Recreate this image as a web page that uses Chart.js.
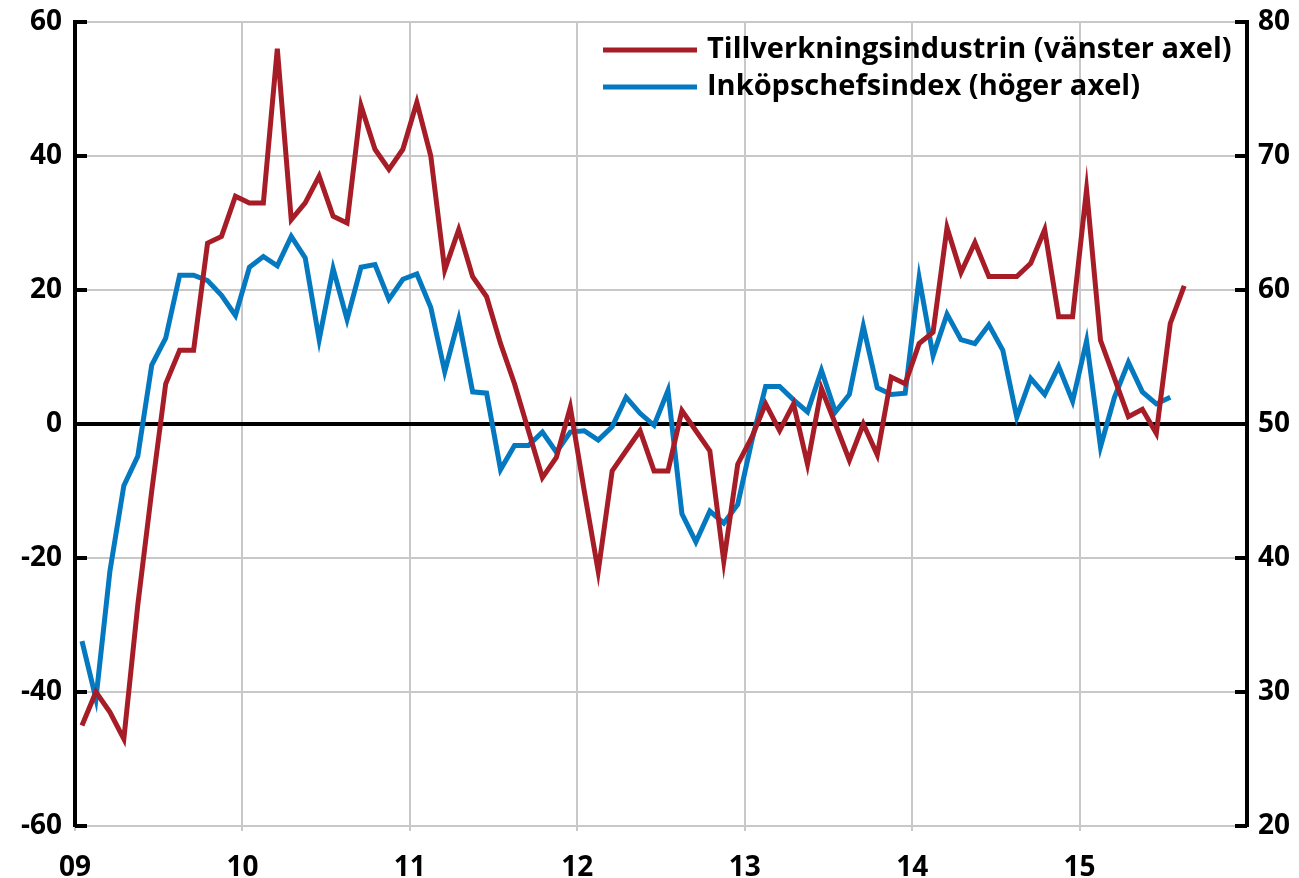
<!DOCTYPE html>
<html>
<head>
<meta charset="utf-8">
<script src="https://cdn.jsdelivr.net/npm/chart.js@4.4.1/dist/chart.umd.min.js"></script>
<style>
  body { margin: 0; background: #fff; }
  #wrap { width: 1299px; height: 878px; }
</style>
</head>
<body>
<div id="wrap"><canvas id="chart"></canvas></div>
<script>
// Data (monthly, Jan 2009 onwards)
const yearLabels = ['09', '10', '11', '12', '13', '14', '15'];

// Tillverkningsindustrin, left axis
const industryValues = [
    -45, -40, -43, -47, -27, -10, 6, 11, 11, 27, 28, 34,
    33, 33, 56, 30.5, 33, 37, 31, 30, 47.5, 41, 38, 41,
    48, 40, 23, 29, 22, 19, 12, 6, -1, -8, -5, 2.5,
    -10, -22, -7, -4, -1, -7, -7, 2, -1, -4, -20.5, -6,
    -2, 3, -1, 3, -6, 5.3, 0, -5.4, 0, -4.6, 7, 6,
    12, 13.7, 29.3, 22.6, 27.1, 22, 22, 22, 24, 29, 16, 16,
    35, 12.5, 6.8, 1.1, 2.2, -1.4, 15, 20.6
];

// Inköpschefsindex, right axis
const pmiValues = [
    33.8, 29.5, 39, 45.4, 47.6, 54.4, 56.4, 61.1, 61.1, 60.7, 59.6, 58.1,
    61.7, 62.5, 61.8, 64, 62.4, 56.3, 61.6, 57.8, 61.7, 61.9, 59.3, 60.8,
    61.2, 58.7, 53.9, 57.8, 52.4, 52.3, 46.6, 48.4, 48.4, 49.4, 47.9, 49.4,
    49.5, 48.8, 49.8, 52, 50.8, 49.9, 52.5, 43.3, 41.2, 43.5, 42.6, 44,
    48.7, 52.8, 52.8, 51.8, 50.9, 54, 50.9, 52.2, 57.3, 52.7, 52.2, 52.3,
    60.9, 55.1, 58.2, 56.3, 56, 57.4, 55.5, 50.5, 53.4, 52.2, 54.3, 51.7,
    56.2, 48.3, 52, 54.6, 52.4, 51.5, 52
];

const RED = '#a71d27';
const BLUE = '#0479c0';
const GRID = '#c8c8c8';
const FONT = '"Open Sans", "Noto Sans", sans-serif';

// points sit in the middle of each month
const toPoints = values => values.map((v, i) => ({ x: i + 0.5, y: v }));

// value axes: fixed width, no extra label padding above/below
const fixAxis = width => scale => {
    scale.width = width;
    scale.paddingTop = 0;
    scale.paddingBottom = 0;
};

// inward tick marks on both value axes
const innerTicks = {
    id: 'innerTicks',
    afterDatasetsDraw(chart) {
        const ctx = chart.ctx;
        const area = chart.chartArea;
        ctx.save();
        ctx.strokeStyle = '#000';
        ctx.lineWidth = 4;
        chart.scales.y.ticks.forEach(t => {
            const y = chart.scales.y.getPixelForValue(t.value);
            ctx.beginPath();
            ctx.moveTo(area.left, y);
            ctx.lineTo(area.left + 12, y);
            ctx.stroke();
        });
        chart.scales.y2.ticks.forEach(t => {
            const y = chart.scales.y2.getPixelForValue(t.value);
            ctx.beginPath();
            ctx.moveTo(area.right - 12, y);
            ctx.lineTo(area.right, y);
            ctx.stroke();
        });
        ctx.restore();
    }
};

// legend in the upper right of the plot
const lineLegend = {
    id: 'lineLegend',
    afterDraw(chart) {
        const ctx = chart.ctx;
        ctx.save();
        ctx.font = '700 29px ' + FONT;
        ctx.textBaseline = 'middle';
        ctx.fillStyle = '#000';
        chart.data.datasets.forEach((ds, k) => {
            const y = 50 + k * 37;
            ctx.strokeStyle = ds.borderColor;
            ctx.lineWidth = 5;
            ctx.beginPath();
            ctx.moveTo(603, y);
            ctx.lineTo(697, y);
            ctx.stroke();
            ctx.fillText(ds.label, 707, y);
        });
        ctx.restore();
    }
};

new Chart(document.getElementById('chart'), {
    type: 'line',
    data: {
        datasets: [{
            label: 'Tillverkningsindustrin (vänster axel)',
            data: toPoints(industryValues),
            borderColor: RED,
            borderWidth: 5,
            pointRadius: 0,
            yAxisID: 'y'
        }, {
            label: 'Inköpschefsindex (höger axel)',
            data: toPoints(pmiValues),
            borderColor: BLUE,
            borderWidth: 5,
            pointRadius: 0,
            yAxisID: 'y2'
        }]
    },
    options: {
        responsive: true,
        maintainAspectRatio: false,
        animation: false,
        layout: { padding: { top: 22 } },
        plugins: {
            legend: { display: false },
            tooltip: { enabled: false }
        },
        scales: {
            x: {
                type: 'linear',
                min: 0,
                max: 84,
                afterBuildTicks: scale => {
                    scale.ticks = yearLabels.map((_, k) => ({ value: k * 12 }));
                },
                afterFit: scale => { scale.height = 52; },
                ticks: {
                    callback: v => yearLabels[v / 12],
                    color: '#000',
                    font: { family: FONT, size: 28, weight: 'bold' },
                    padding: 20,
                    maxRotation: 0,
                    autoSkip: false
                },
                grid: { color: GRID, lineWidth: 2, tickLength: 5 },
                border: { display: false }
            },
            y: {
                position: 'left',
                min: -60,
                max: 60,
                afterFit: fixAxis(75),
                ticks: {
                    stepSize: 20,
                    color: '#000',
                    font: { family: FONT, size: 28, weight: 'bold' },
                    padding: 13
                },
                grid: {
                    drawTicks: false,
                    color: c => c.tick.value === 0 ? '#000' : GRID,
                    lineWidth: c => c.tick.value === 0 ? 4 : 2
                },
                border: { display: true, color: '#000', width: 4 }
            },
            y2: {
                position: 'right',
                min: 20,
                max: 80,
                afterFit: fixAxis(52),
                ticks: {
                    stepSize: 10,
                    color: '#000',
                    font: { family: FONT, size: 28, weight: 'bold' },
                    padding: 11
                },
                grid: { display: false, drawTicks: false },
                border: { display: true, color: '#000', width: 4 }
            }
        }
    },
    plugins: [innerTicks, lineLegend]
});
</script>
</body>
</html>
